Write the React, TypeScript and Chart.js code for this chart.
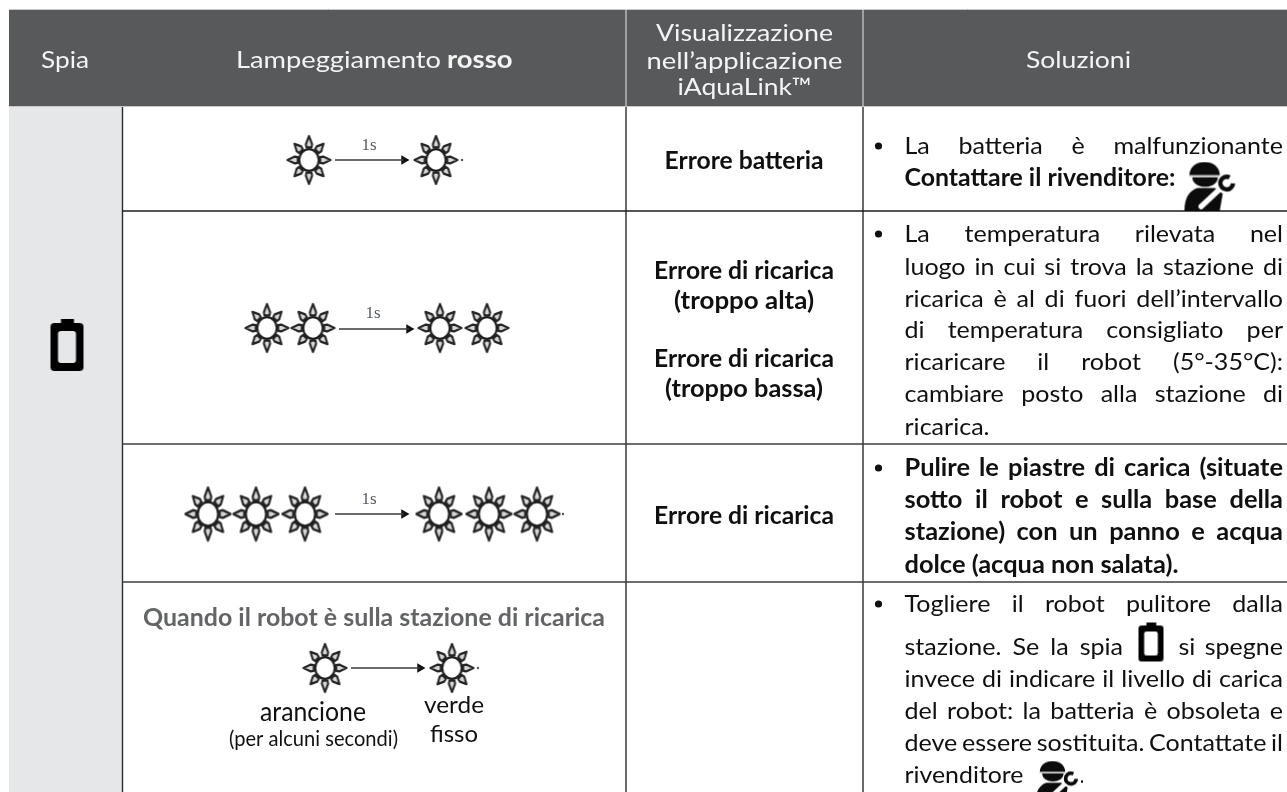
import React, { useEffect, useRef } from "react";
import { Chart, registerables } from "chart.js";

Chart.register(...registerables);

// ---- content ----
const headerLabels = ["Spia", "Lampeggiamento ", "rosso", "Visualizzazione", "nell’applicazione", "iAquaLink™", "Soluzioni"];
const errorRow1 = ["Errore batteria"];
const errorRow2 = ["Errore di ricarica", "(troppo alta)", "Errore di ricarica", "(troppo bassa)"];
const errorRow3 = ["Errore di ricarica"];
const row4Title = "Quando il robot è sulla stazione di ricarica";
const row4Captions = ["arancione", "(per alcuni secondi)", "verde", "fisso"];
const delayLabel = "1s";

const solutionRow1 = ["La batteria è malfunzionante", "Contattare il rivenditore:"];
const solutionRow2 = [
  "La temperatura rilevata nel",
  "luogo in cui si trova la stazione di",
  "ricarica è al di fuori dell’intervallo",
  "di temperatura consigliato per",
  "ricaricare il robot (5°-35°C):",
  "cambiare posto alla stazione di",
  "ricarica.",
];
const solutionRow3 = [
  "Pulire le piastre di carica (situate",
  "sotto il robot e sulla base della",
  "stazione) con un panno e acqua",
  "dolce (acqua non salata).",
];
const solutionRow4 = [
  "Togliere il robot pulitore dalla",
  "stazione. Se la spia",
  "si spegne",
  "invece di indicare il livello di carica",
  "del robot: la batteria è obsoleta e",
  "deve essere sostituita. Contattate il",
  "rivenditore",
  ".",
];

// ---- marks (in reference pixels) ----
const sunsSmallX = [309, 436, 267, 313, 440, 487, 325, 452];
const sunsSmallY = [160, 160, 328, 328, 328, 328, 668, 668];
const sunsLargeX = [208, 256, 305, 439, 489, 537];
const sunsLargeY = [514, 514, 514, 514, 514, 514];
const arrowStartX = [335, 339, 335, 351];
const arrowEndX = [404, 409, 404, 420];
const arrowY = [160, 329, 514, 668];
const arrowHeadX = [404, 409, 404, 420];
const fragmentX = [462, 563, 478];
const fragmentY = [160, 514, 668];
const bulletX = [878.5, 878.5, 878.5, 878.5];
const bulletY = [146, 234, 468, 604];
const batteryBigX = [67];
const batteryBigY = [345];
const batterySmallX = [1151];
const batterySmallY = [642];
const mechanicBigX = [1210];
const mechanicBigY = [186];
const mechanicSmallX = [1057];
const mechanicSmallY = [781];

// ---- layout ----
const W = 1287;
const H = 792;
const TABLE_LEFT = 9;
const HEADER_TOP = 9;
const HEADER_BOTTOM = 106;
const COL1 = 122.5;
const COL2 = 626;
const COL3 = 863;
const ROW_LINES = [211, 444, 582];
const TEXT_L = 904.5;
const TEXT_R = 1283;
const CENTER = 744;
const F = "Lato, 'Open Sans', sans-serif";
const WHITE = "#f4f4f4";
const INK = "#101010";

function makeSun(rx: number, ry: number) {
  const c = document.createElement("canvas");
  const w = Math.ceil(rx * 2 + 4);
  const h = Math.ceil(ry * 2 + 4);
  c.width = w;
  c.height = h;
  const g = c.getContext("2d")!;
  g.filter = "blur(0.5px)";
  g.translate(w / 2, h / 2);
  g.scale(rx / 22, ry / 22);
  for (let i = 0; i < 8; i++) {
    g.save();
    g.rotate((i * Math.PI) / 4);
    const tip = i % 2 === 0 ? 22 : 21;
    g.beginPath();
    g.moveTo(0, -tip);
    g.lineTo(3.2, -14.5);
    g.lineTo(2.6, -11.5);
    g.lineTo(-2.6, -11.5);
    g.lineTo(-3.2, -14.5);
    g.closePath();
    g.fillStyle = "#d8d8d8";
    g.fill();
    g.lineWidth = 2.1;
    g.lineJoin = "round";
    g.strokeStyle = "#242424";
    g.stroke();
    g.restore();
  }
  g.beginPath();
  g.arc(0, 0, 10, 0, Math.PI * 2);
  g.fillStyle = "#ffffff";
  g.fill();
  g.lineWidth = 2.2;
  g.strokeStyle = "#1e1e1e";
  g.stroke();
  return c;
}

function makeBattery(w: number, h: number, hole: string) {
  const pad = 2;
  const c = document.createElement("canvas");
  c.width = w + pad * 2;
  c.height = h + pad * 2;
  const g = c.getContext("2d")!;
  g.translate(pad, pad);
  const sx = w / 33;
  const sy = h / 52;
  g.scale(sx, sy);
  g.fillStyle = "#000";
  g.beginPath();
  g.rect(10.5, 0, 13, 6);
  g.fill();
  g.beginPath();
  g.roundRect(0, 4, 33, 48, 4);
  g.fill();
  g.fillStyle = hole;
  g.beginPath();
  g.roundRect(7.5, 12, 18, 32, 3);
  g.fill();
  return c;
}

function makeMechanic(w: number) {
  const c = document.createElement("canvas");
  const h = Math.round((w * 50) / 56);
  c.width = w;
  c.height = h;
  const g = c.getContext("2d")!;
  g.scale(w / 56, h / 50);
  g.fillStyle = "#0c0c0c";
  // helmet dome
  g.beginPath();
  g.moveTo(7, 14);
  g.bezierCurveTo(7, -4, 38, -4, 38, 14);
  g.closePath();
  g.fill();
  // face
  g.beginPath();
  g.moveTo(10, 16);
  g.lineTo(36, 16);
  g.bezierCurveTo(36, 29, 10, 29, 10, 16);
  g.closePath();
  g.fill();
  g.fillStyle = "#c8c8c8";
  g.fillRect(7, 14, 31, 1.6);
  // body
  g.fillStyle = "#0c0c0c";
  g.beginPath();
  g.moveTo(2, 50);
  g.bezierCurveTo(2, 37, 7, 30, 15, 27);
  g.lineTo(33, 27);
  g.lineTo(41, 33);
  g.lineTo(38, 50);
  g.closePath();
  g.fill();
  // wrench handle
  g.strokeStyle = "#ffffff";
  g.lineWidth = 5.5;
  g.lineCap = "round";
  g.beginPath();
  g.moveTo(19, 46);
  g.lineTo(37, 29);
  g.stroke();
  // wrench head
  g.strokeStyle = "#0c0c0c";
  g.lineCap = "butt";
  g.lineWidth = 4.5;
  g.beginPath();
  g.arc(45, 22, 6.5, Math.PI * 0.05 - 0.1, Math.PI * 1.65);
  g.stroke();
  return c;
}

function pts(xs: number[], ys: number[]) {
  return xs.map((x, i) => ({ x, y: ys[i] }));
}

const tablePlugin = {
  id: "table",
  beforeDatasetsDraw(chart: any) {
    const g = chart.ctx as CanvasRenderingContext2D;
    const sx = (v: number) => chart.scales.x.getPixelForValue(v);
    const sy = (v: number) => chart.scales.y.getPixelForValue(v);
    g.save();
    g.fillStyle = "#ffffff";
    g.fillRect(0, 0, W, H);
    g.fillStyle = "#58595b";
    g.fillRect(sx(TABLE_LEFT), sy(HEADER_TOP), sx(W) - sx(TABLE_LEFT), sy(HEADER_BOTTOM) - sy(HEADER_TOP));
    g.fillStyle = "#e6e7e8";
    g.fillRect(sx(TABLE_LEFT), sy(HEADER_BOTTOM), sx(COL1) - sx(TABLE_LEFT), sy(H) - sy(HEADER_BOTTOM));
    g.strokeStyle = "#c9c9ca";
    g.lineWidth = 1;
    g.beginPath();
    g.moveTo(sx(TABLE_LEFT), sy(HEADER_TOP) + 0.5);
    g.lineTo(sx(W), sy(HEADER_TOP) + 0.5);
    g.moveTo(sx(TABLE_LEFT), sy(HEADER_BOTTOM) + 0.5);
    g.lineTo(sx(W), sy(HEADER_BOTTOM) + 0.5);
    g.stroke();
    g.strokeStyle = "#e8e8e8";
    g.beginPath();
    [COL2, COL3].forEach((c) => {
      g.moveTo(sx(c), sy(HEADER_TOP));
      g.lineTo(sx(c), sy(HEADER_BOTTOM));
    });
    g.stroke();
    g.strokeStyle = "#2b2b2b";
    g.lineWidth = 1.4;
    g.beginPath();
    [COL1, COL2, COL3].forEach((c) => {
      g.moveTo(sx(c), sy(HEADER_BOTTOM + 1));
      g.lineTo(sx(c), sy(H));
    });
    g.stroke();
    ROW_LINES.forEach((r, i) => {
      g.strokeStyle = i === 0 ? "#1c1c1c" : "#3c3c3c";
      g.lineWidth = i === 0 ? 1.6 : 1.3;
      g.beginPath();
      g.moveTo(sx(COL1), sy(r));
      g.lineTo(sx(W), sy(r));
      g.stroke();
    });
    g.restore();
  },
  afterDatasetsDraw(chart: any) {
    const g = chart.ctx as CanvasRenderingContext2D;
    const X = (v: number) => chart.scales.x.getPixelForValue(v);
    const Y = (v: number) => chart.scales.y.getPixelForValue(v);

    const fit = (t: string, l: number, r: number, cy: number, font: string, color: string) => {
      g.save();
      g.font = font;
      g.fillStyle = color;
      g.textBaseline = "alphabetic";
      g.textAlign = "left";
      const m = g.measureText(t).width;
      g.translate(X(l), Y(cy) + 8);
      g.scale((X(r) - X(l)) / m, 1);
      g.fillText(t, 0, 0);
      g.restore();
    };
    const centered = (t: string, cx: number, w: number, cy: number, font: string, color: string) =>
      fit(t, cx - w / 2, cx + w / 2, cy, font, color);
    const justify = (t: string, l: number, r: number, cy: number, font: string, color: string, k: number) => {
      g.save();
      g.font = font;
      g.fillStyle = color;
      const words = t.split(" ");
      const ws = words.map((w) => g.measureText(w).width * k);
      const gap = (X(r) - X(l) - ws.reduce((a, b) => a + b, 0)) / Math.max(1, words.length - 1);
      let x = X(l);
      words.forEach((w, i) => {
        g.save();
        g.translate(x, Y(cy) + 8);
        g.scale(k, 1);
        g.fillText(w, 0, 0);
        g.restore();
        x += ws[i] + gap;
      });
      g.restore();
    };

    const reg = `24px ${F}`;
    const bold = `bold 24px ${F}`;
    g.save();
    g.font = reg;
    const RK = 85 / g.measureText("ricarica.").width;
    g.font = bold;
    const BK = 274 / g.measureText("dolce (acqua non salata).").width;
    g.restore();

    // header
    centered(headerLabels[0], 65, 48, 60, reg, WHITE);
    fit(headerLabels[1].trimEnd(), 236, 441, 60, reg, WHITE);
    fit(headerLabels[2], 447, 512.5, 60, bold, WHITE);
    centered(headerLabels[3], 744.5, 177, 33, reg, WHITE);
    centered(headerLabels[4], 744.5, 196, 60.5, reg, WHITE);
    centered(headerLabels[5], 744.5, 134, 87, reg, WHITE);
    centered(headerLabels[6], 1078.5, 105, 60, reg, WHITE);

    // centre column
    centered(errorRow1[0], CENTER, 159, 160.5, bold, INK);
    centered(errorRow2[0], CENTER, 180, 270.5, bold, INK);
    centered(errorRow2[1], CENTER, 140, 300.5, bold, INK);
    centered(errorRow2[2], CENTER, 180, 359, bold, INK);
    centered(errorRow2[3], CENTER, 158, 389, bold, INK);
    centered(errorRow3[0], CENTER, 180, 516, bold, INK);

    // row 4 left
    centered(row4Title, 374, 462, 618, bold, "#636466");
    centered(row4Captions[0], 313, 106, 712.5, `26px ${F}`, INK);
    centered(row4Captions[1], 313.5, 169, 738, `21px ${F}`, INK);
    centered(row4Captions[2], 454, 60, 705, reg, INK);
    centered(row4Captions[3], 454, 48, 734, reg, INK);

    // delay labels
    [[369, 146], [373, 314], [369, 500]].forEach(([x, y]) => {
      g.save();
      g.font = "17px 'Liberation Serif', serif";
      g.fillStyle = "#555a60";
      g.textAlign = "center";
      g.textBaseline = "middle";
      g.fillText(delayLabel, X(x), Y(y));
      g.restore();
    });

    // solutions
    const y1 = [146, 178];
    justify(solutionRow1[0], TEXT_L, TEXT_R, y1[0], reg, INK, RK);
    fit(solutionRow1[1], TEXT_L, TEXT_L + 271, y1[1], bold, INK);
    const y2 = [234, 266.5, 298.5, 330, 362, 394, 427];
    solutionRow2.forEach((t, i) => {
      if (i === 6) fit(t, TEXT_L, TEXT_L + 85, y2[i], reg, INK);
      else justify(t, TEXT_L, TEXT_R, y2[i], reg, INK, RK);
    });
    const y3 = [468, 500, 532, 565];
    solutionRow3.forEach((t, i) => {
      if (i === 3) fit(t, TEXT_L, TEXT_L + 274, y3[i], bold, INK);
      else justify(t, TEXT_L, TEXT_R, y3[i], bold, INK, BK);
    });
    justify(solutionRow4[0], TEXT_L, TEXT_R, 604, reg, INK, RK);
    justify(solutionRow4[1], TEXT_L, 1123, 647, reg, INK, RK);
    justify(solutionRow4[2], 1178.5, TEXT_R, 647, reg, INK, RK);
    justify(solutionRow4[3], TEXT_L, TEXT_R, 679, reg, INK, RK);
    justify(solutionRow4[4], TEXT_L, TEXT_R, 711, reg, INK, RK);
    justify(solutionRow4[5], TEXT_L, TEXT_R, 743, reg, INK, RK);
    fit(solutionRow4[6], TEXT_L, TEXT_L + 119, 775, reg, INK);
    fit(solutionRow4[7], 1080, 1084, 775, reg, INK);
  },
};

export default function App() {
  const ref = useRef<HTMLCanvasElement>(null);
  useEffect(() => {
    document.body.style.margin = "0";
    const arrows = arrowStartX.map((s, i) => ({
      type: "line" as const,
      data: [
        { x: s, y: arrowY[i] },
        { x: arrowEndX[i], y: arrowY[i] },
      ],
      borderColor: "#3a3a3a",
      borderWidth: 1.6,
      pointRadius: 0,
      showLine: true,
    }));
    const chart = new Chart(ref.current!, {
      type: "scatter",
      data: {
        datasets: [
          ...arrows,
          { data: pts(arrowHeadX, arrowY), pointStyle: "triangle", rotation: 90, pointRadius: 5.5, backgroundColor: "#111", borderWidth: 0 },
          { data: pts(sunsSmallX, sunsSmallY), pointStyle: makeSun(21.5, 24) as any },
          { data: pts(sunsLargeX, sunsLargeY), pointStyle: makeSun(22.5, 26.5) as any },
          { data: pts(fragmentX, fragmentY), pointRadius: 1.2, backgroundColor: "#555", borderWidth: 0 },
          { data: pts(bulletX, bulletY), pointRadius: 3.6, backgroundColor: "#111", borderWidth: 0 },
          { data: pts(batteryBigX, batteryBigY), pointStyle: makeBattery(33, 52, "#e6e7e8") as any },
          { data: pts(batterySmallX, batterySmallY), pointStyle: makeBattery(25, 39, "#ffffff") as any },
          { data: pts(mechanicBigX, mechanicBigY), pointStyle: makeMechanic(55) as any },
          { data: pts(mechanicSmallX, mechanicSmallY), pointStyle: makeMechanic(46) as any },
        ] as any,
      },
      options: {
        animation: false,
        responsive: false,
        layout: { padding: 0, autoPadding: false },
        plugins: { legend: { display: false }, tooltip: { enabled: false }, title: { display: false } },
        scales: {
          x: { type: "linear", min: 0, max: W, display: false },
          y: { type: "linear", min: 0, max: H, reverse: true, display: false },
        },
      },
      plugins: [tablePlugin],
    } as any);
    return () => chart.destroy();
  }, []);
  return (
    <div style={{ position: "absolute", left: 0, top: 0, width: W, height: H, overflow: "hidden" }}>
      <canvas ref={ref} width={W} height={H} style={{ display: "block", width: W, height: H }} />
    </div>
  );
}
